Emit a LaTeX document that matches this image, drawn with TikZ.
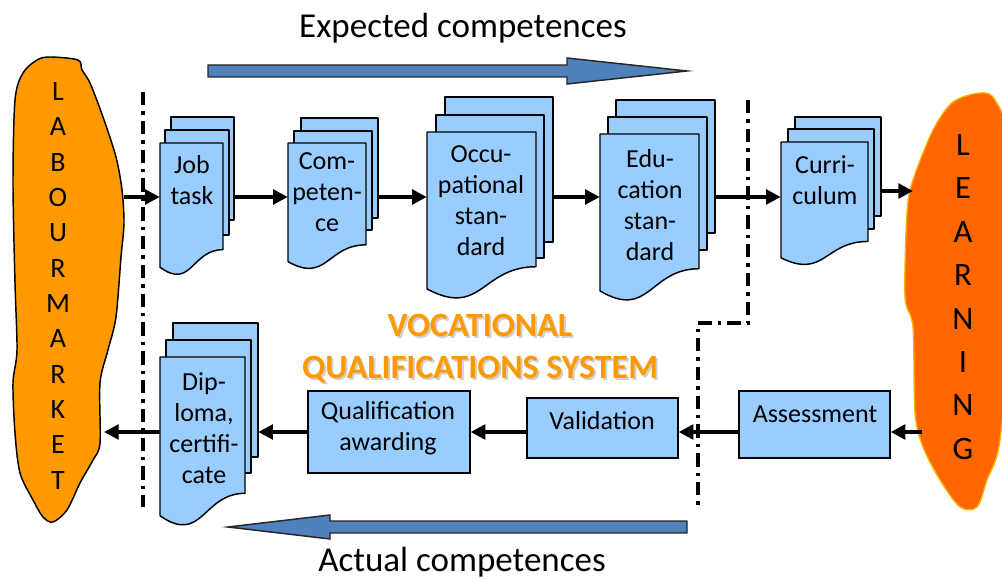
\documentclass[tikz,border=0pt]{standalone}
\usepackage{fontspec}
\setmainfont{Carlito}
\usetikzlibrary{arrows.meta,fit}
\definecolor{pageblue}{HTML}{99CCFF}
\definecolor{arrowblue}{HTML}{4F81BD}
\definecolor{lmorange}{HTML}{FF9900}
\definecolor{lnorange}{HTML}{FF6600}
\definecolor{lnedge}{HTML}{F2B400}
\definecolor{vqsorange}{HTML}{FF9900}
\tikzset{
  page/.style={fill=pageblue, draw=black, line width=1.1pt, line join=round},
  box/.style={fill=pageblue, draw=black, line width=1.1pt, inner sep=0pt},
  area/.style={inner sep=0pt},
  lbl/.style={align=center, inner sep=0pt, font=\fontsize{19.5}{23.25}\selectfont},
  title/.style={inner sep=0pt, font=\fontsize{26.25}{31}\selectfont},
  conn/.style={line width=2.6pt, -{Triangle[length=11pt,width=11pt]}},
  divider/.style={line width=2.6pt, black, dash pattern=on 10pt off 4.5pt on 2.6pt off 4.5pt},
  blockarrow/.style={fill=arrowblue, draw=black!85, line width=1.1pt, line join=miter},
}
% front page of a document stack: left, top, right, height
\newcommand{\frontpg}[4]{%
  \filldraw[page] (#1,#2) -- (#3,#2) -- (#3,{#2+0.802*#4})
    .. controls ({(#1+#3)/2},{#2+0.802*#4}) and ({(#1+#3)/2},{#2+1.1075*#4}) ..
    (#1,{#2+0.934*#4}) -- cycle;}
\begin{document}
\begin{tikzpicture}[x=0.75pt, y=-0.75pt]
\useasboundingbox (0,0) rectangle (1002,580);

% ---------- blobs ----------
\filldraw[fill=lmorange, draw=black, line width=1.1pt]
  plot[smooth cycle, tension=0.5] coordinates {
  (50,57) (78,60) (82,70) (90,83) (103,117) (116,157) (122,190) (124,223) (121,257)
  (116,317) (108,350) (100,383) (100,443) (93,460) (80,483) (67,510) (53,522)
  (43,517) (33,500) (20,473) (15,433) (13,383) (17,350) (15,283) (13,183)
  (15,100) (23,73) (37,60)};
\begin{scope}
\clip (0,0) rectangle (1002,580);
\filldraw[fill=lnorange, draw=lnedge, line width=1pt]
  plot[smooth cycle, tension=0.5] coordinates {
  (980,93) (953,102) (933,130) (913,180) (907,213) (905,297) (913,327)
  (915,413) (923,447) (940,480) (960,507) (977,507) (987,480) (1000,440)
  (1012,300) (1012,150) (995,100)};
\end{scope}
\node[align=center, inner sep=0pt, font=\fontsize{21}{26.5}\selectfont] (lmtxt) at (58,286)
  {L\\A\\B\\O\\U\\R\\M\\A\\R\\K\\E\\T};
\node[align=center, inner sep=0pt, font=\fontsize{24.5}{32.55}\selectfont] (lntxt) at (963,297)
  {L\\E\\A\\R\\N\\I\\N\\G};

% ---------- block arrows ----------
\filldraw[blockarrow] (208,65) -- (567,65) -- (567,58) -- (687,71) -- (567,84) -- (567,77) -- (208,77) -- cycle;
\filldraw[blockarrow] (687,521) -- (330,521) -- (330,515) -- (228,527) -- (330,539) -- (330,533) -- (687,533) -- cycle;
\node[title, anchor=base] (exp) at (463,37.5) {Expected competences};
\node[title, anchor=base] (act) at (462,571) {Actual competences};

% ---------- dividers ----------
\draw[divider] (143,92) -- (143,507);
\draw[divider] (748,100) -- (748,323) -- (698,323) -- (698,507);

% ---------- document stacks ----------
% Job task
\draw[page] (171,117) rectangle (234,220);
\draw[page] (165,130) rectangle (229,235);
\frontpg{160}{143}{223}{133}
\node[area, fit={(160,117) (234,275)}] (job) {};
\node[lbl] (jobt) at (192,180) {Job\\task};
% Competence
\draw[page] (301,118) rectangle (378,218);
\draw[page] (294,131) rectangle (372,230);
\frontpg{288}{143}{366}{127}
\node[area, fit={(288,118) (378,268)}] (comp) {};
\node[lbl] (compt) at (327,192) {Com-\\peten-\\ce};
% Occupational standard
\draw[page] (445,97) rectangle (553,242);
\draw[page] (436,115) rectangle (544,258);
\frontpg{427}{132}{536}{168}
\node[area, fit={(427,97) (553,298)}] (occ) {};
\node[lbl] (occt) at (481,201) {Occu-\\pational\\stan-\\dard};
% Education standard
\draw[page] (616,100) rectangle (715,233);
\draw[page] (608,117) rectangle (707,250);
\frontpg{600}{134}{699}{168}
\node[area, fit={(600,100) (715,300)}] (edu) {};
\node[lbl] (edut) at (650,205) {Edu-\\cation\\stan-\\dard};
% Curriculum
\draw[page] (795,117) rectangle (881,216);
\draw[page] (788,129) rectangle (874,229);
\frontpg{781}{142}{868}{124}
\node[area, fit={(781,117) (881,265)}] (curr) {};
\node[lbl] (currt) at (825,180) {Curri-\\culum};
% Diploma, certificate
\draw[page] (173,323) rectangle (258,457);
\draw[page] (166,340) rectangle (251,473);
\frontpg{160}{357}{245}{170}
\node[area, fit={(160,323) (258,525)}] (dip) {};
\node[lbl] (dipt) at (204,428) {Dip-\\loma,\\certifi-\\cate};

% ---------- rectangles ----------
\node[box, fit={(739,391) (890,458)}] (assess) {};
\node[lbl] (assesst) at (815,414) {Assessment};
\node[box, fit={(527,398) (678,458)}] (valid) {};
\node[lbl] (validt) at (602,421) {Validation};
\node[box, fit={(308,391) (470,473)}] (qual) {};
\node[lbl] (qualt) at (388,428) {Qualification\\awarding};

% ---------- title ----------
\node[align=center, inner sep=0pt, text=black!30, opacity=0.6,
      font=\bfseries\fontsize{25.5}{31.5}\selectfont] (vqsshadow) at (482,350)
  {VOCATIONAL\\QUALIFICATIONS SYSTEM};
\node[align=center, inner sep=0pt, text=vqsorange,
      font=\bfseries\fontsize{25.5}{31.5}\selectfont] (vqs) at (480,348)
  {VOCATIONAL\\QUALIFICATIONS SYSTEM};

% ---------- connectors ----------
\coordinate (rowA) at (0,197);
\coordinate (rowB) at (0,432);
\coordinate (rowC) at (0,191);
\coordinate (lmR) at (124,197);
\coordinate (lmL) at (104,432);
\coordinate (lnIn) at (913,191);
\coordinate (lnOut) at (922,432);
\draw[conn] (lmR) -- (job.west |- rowA);
\draw[conn] (job.east |- rowA) -- (comp.west |- rowA);
\draw[conn] (comp.east |- rowA) -- (occ.west |- rowA);
\draw[conn] (occ.east |- rowA) -- (edu.west |- rowA);
\draw[conn] (edu.east |- rowA) -- (curr.west |- rowA);
\draw[conn] (curr.east |- rowC) -- (lnIn);
\draw[conn] (lnOut) -- (assess.east |- rowB);
\draw[conn] (assess.west |- rowB) -- (valid.east |- rowB);
\draw[conn] (valid.west |- rowB) -- (qual.east |- rowB);
\draw[conn] (qual.west |- rowB) -- (dip.east |- rowB);
\draw[conn] (dip.west |- rowB) -- (lmL);
\end{tikzpicture}
\end{document}
